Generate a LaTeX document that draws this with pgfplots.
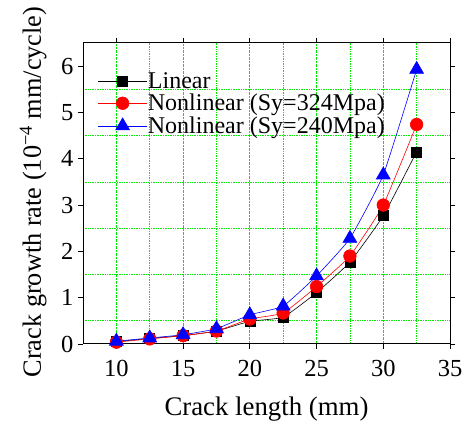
\documentclass[border=0pt]{standalone}
\usepackage{fontspec}
\setmainfont{Liberation Serif}
\usepackage{pgfplots}
\pgfplotsset{compat=1.18}
\definecolor{gridgreen}{RGB}{0,235,0}
\begin{document}
\begin{tikzpicture}
\useasboundingbox (0,0) rectangle (468pt,425pt);
\begin{axis}[
  at={(83pt,81pt)}, anchor=south west,
  scale only axis,
  width=367pt, height=301pt,
  xmin=7.5, xmax=35, ymin=0, ymax=6.5,
  xtick={10,15,20,25,30,35},
  minor xtick={12.5,17.5,22.5,27.5,32.5},
  ytick={0,1,2,3,4,5,6},
  minor ytick={0.5,1.5,2.5,3.5,4.5,5.5},
  xmajorgrids, xminorgrids, yminorgrids,
  grid style={color=gridgreen, densely dotted, line width=0.7pt},
  minor grid style={color=gridgreen, densely dotted, line width=0.7pt},
  tick align=outside,
  major tick length=5pt, minor tick length=0pt,
  tick style={black, line width=0.8pt},
  axis line style={line width=1pt},
  /pgf/number format/assume math mode=true,
  ticklabel style={font=\fontsize{24.5}{25}\selectfont},
  xticklabel style={yshift=-8pt},
  yticklabel style={xshift=-1pt},
  xlabel={Crack length (mm)},
  ylabel={Crack growth rate (10\textsuperscript{−4} mm/cycle)},
  xlabel style={font=\fontsize{26.8}{27}\selectfont, at={(axis description cs:0.5,-0.216)}, anchor=center},
  ylabel style={font=\fontsize{26.3}{27}\selectfont, at={(axis description cs:-0.136,0.505)}, anchor=center},
  clip=false,
  legend style={draw=none, fill=none, at={(axis description cs:0.04,0.905)}, anchor=north west,
    font=\fontsize{24}{26}\selectfont, row sep=3.5pt, inner sep=0pt,
    nodes={inner sep=0.5pt}},
  legend cell align=left,
  legend image code/.code={\draw[mark repeat=2,mark phase=2] plot coordinates {(0cm,0cm)(0.86cm,0cm)(1.72cm,0cm)};},
]
\addplot[black, line width=0.6pt, smooth, tension=0.25, mark=square*, mark size=5pt, mark options={solid}] coordinates {
(10,0.05) (12.5,0.12) (15,0.18) (17.5,0.28) (20,0.49) (22.5,0.58) (25,1.11) (27.5,1.77) (30,2.77) (32.5,4.15)};
\addlegendentry{Linear}
\addplot[red, line width=0.6pt, smooth, tension=0.25, mark=*, mark size=6.3pt, mark options={solid}] coordinates {
(10,0.04) (12.5,0.11) (15,0.18) (17.5,0.28) (20,0.54) (22.5,0.67) (25,1.24) (27.5,1.90) (30,3.00) (32.5,4.74)};
\addlegendentry{Nonlinear (Sy=324Mpa)}
\addplot[blue, line width=0.6pt, smooth, tension=0.25, mark=triangle*, mark size=8pt, mark options={solid}] coordinates {
(10,0.06) (12.5,0.13) (15,0.20) (17.5,0.33) (20,0.63) (22.5,0.82) (25,1.47) (27.5,2.28) (30,3.65) (32.5,5.93)};
\addlegendentry{Nonlinear (Sy=240Mpa)}
\end{axis}
\end{tikzpicture}
\end{document}
